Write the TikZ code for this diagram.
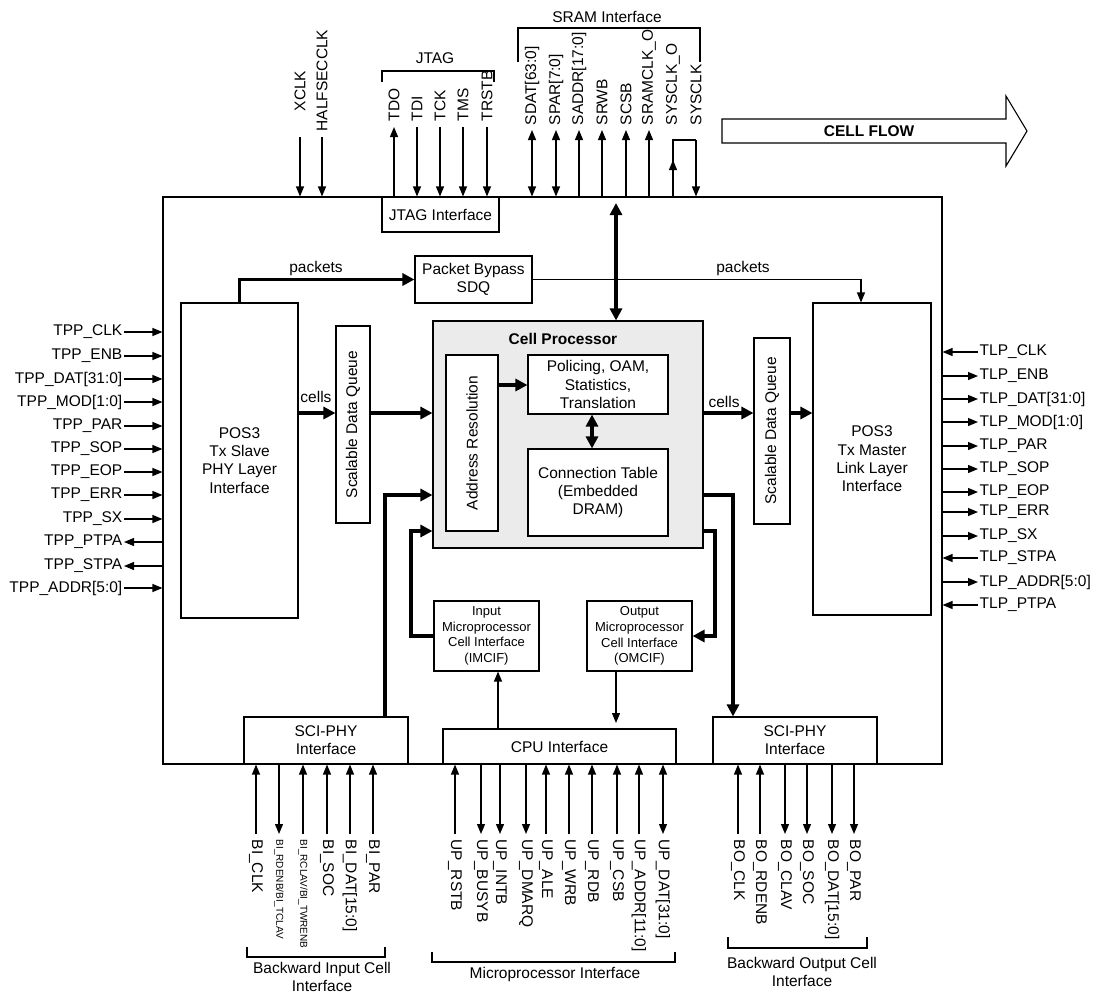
\documentclass[tikz,border=0pt]{standalone}
\usepackage{fontspec}
\setmainfont{Liberation Sans}
\usetikzlibrary{arrows.meta,calc}
\tikzset{
  every node/.style={font=\fontsize{15.5}{18.3}\selectfont, inner sep=1.5pt},
  box/.style={draw, line width=1.1pt, fill=white, inner sep=0pt, align=center},
  ln/.style={line width=1.1pt},
  ar/.style={line width=1.2pt, -{Triangle[length=10pt,width=8pt]}},
  ral/.style={line width=1.2pt, {Triangle[length=10pt,width=8pt]}-},
  dar/.style={line width=1.2pt, {Triangle[length=10pt,width=8pt]}-{Triangle[length=10pt,width=8pt]}},
  bar/.style={line width=3.2pt, -{Triangle[length=12pt,width=12pt]}},
  bdar/.style={line width=3.2pt, {Triangle[length=12pt,width=12pt]}-{Triangle[length=12pt,width=12pt]}},
  bln/.style={line width=3.2pt},
  small/.style={font=\fontsize{13}{15.7}\selectfont},
  boldtxt/.style={font=\fontsize{15.5}{18.3}\selectfont\bfseries}
}
\begin{document}
\begin{tikzpicture}[x=1pt,y=-1pt]
\useasboundingbox (0,0) rectangle (1106,994);

% main chip
\node[box, minimum width=779pt, minimum height=567pt] (main) at (552.5,480.5) {};

% inner blocks
\node[box, minimum width=117pt, minimum height=35pt] (jtagif) at (440.5,214.5) {JTAG Interface};
\node[box, minimum width=117pt, minimum height=315pt] (pos3s) at (239.5,460.5) {POS3\\Tx Slave\\PHY Layer\\Interface};
\node[box, minimum width=117pt, minimum height=47pt] (pbsdq) at (473.5,279.5) {Packet Bypass\\SDQ};
\node[box, minimum width=34pt, minimum height=197pt] (sdqL) at (353,424.5) {};
\node[rotate=90] (sdqLt) at (sdqL) {Scalable Data Queue};
\node[box, fill=black!8, minimum width=270pt, minimum height=227pt] (cellproc) at (568,434.5) {};
\node[boldtxt] (cpt) at (563,339) {Cell Processor};
\node[box, minimum width=52pt, minimum height=176pt] (addr) at (472,443) {};
\node[rotate=90] (addrt) at (addr) {Address Resolution};
\node[box, minimum width=140pt, minimum height=59pt] (polic) at (598,384.5) {Policing, OAM,\\Statistics,\\Translation};
\node[box, minimum width=140pt, minimum height=87pt] (conn) at (598,492.5) {Connection Table\\(Embedded\\DRAM)};
\node[box, minimum width=36pt, minimum height=186pt] (sdqR) at (772,431) {};
\node[rotate=90] (sdqRt) at (sdqR) {Scalable Data Queue};
\node[box, minimum width=118pt, minimum height=312pt] (pos3m) at (872,459) {POS3\\Tx Master\\Link Layer\\Interface};
\node[box, small, minimum width=105pt, minimum height=70pt] (imcif) at (486.5,636) {Input\\Microprocessor\\Cell Interface\\(IMCIF)};
\node[box, small, minimum width=105pt, minimum height=70pt] (omcif) at (639.5,636) {Output\\Microprocessor\\Cell Interface\\(OMCIF)};
\node[box, minimum width=233pt, minimum height=35pt] (cpu) at (559.5,746.5) {CPU Interface};
\node[box, minimum width=164pt, minimum height=47pt] (scil) at (326,740.5) {SCI-PHY\\Interface};
\node[box, minimum width=164pt, minimum height=47pt] (scir) at (795,740.5) {SCI-PHY\\Interface};

% internal connections
\draw[bar] (pos3s.north) |- (pbsdq.west);
\node (pk1) at (316,268) {packets};
\draw[ar] (pbsdq.east) -| ([xshift=-11pt]pos3m.north);
\node (pk2) at (743,268) {packets};
\draw[bar] (pos3s.east |- 0,413) -- (sdqL.west |- 0,413);
\node (c1) at (316,397) {cells};
\draw[bar] (sdqL.east |- 0,413) -- (cellproc.west |- 0,413);
\draw[bar] (cellproc.east |- 0,413) -- (sdqR.west |- 0,413);
\node (c2) at (724,402) {cells};
\draw[bar] (sdqR.east |- 0,413) -- (pos3m.west |- 0,413);
\draw[bar] (addr.east |- 0,385) -- (polic.west |- 0,385);
\draw[bdar] (polic.south -| 592,0) -- (conn.north -| 592,0);
\coordinate (sramin) at (616,203);
\draw[bdar] (sramin) -- (sramin |- cellproc.north);
\draw[bar] (scil.north -| 385,0) -- (385,495) -- (cellproc.west |- 0,495);
\draw[bar] (imcif.west) -| (411,531) -- (cellproc.west |- 0,531);
\draw[bar] (cellproc.east |- 0,495) -| (scir.north -| 733,0);
\draw[bar] (cellproc.east |- 0,531) -| (715,636) -- (omcif.east);
\draw[ar] (cpu.north -| 498,0) -- (imcif.south -| 498,0);
\draw[ar] (omcif.south -| 616,0) -- (616,723);

% left pins
\foreach \nm/\lab/\yy/\st in {lclk/TPP\_CLK/332/ar, lenb/TPP\_ENB/356/ar, ldat/TPP\_DAT[31:0]/379/ar,
  lmod/TPP\_MOD[1:0]/402/ar, lpar/TPP\_PAR/426/ar, lsop/TPP\_SOP/449/ar, leop/TPP\_EOP/472/ar,
  lerr/TPP\_ERR/495/ar, lsx/TPP\_SX/519/ar, lptpa/TPP\_PTPA/542/ral, lstpa/TPP\_STPA/566/ral,
  laddr/TPP\_ADDR[5:0]/588/ar}{
  \node[anchor=east] (\nm) at (124,\yy) {\lab};
  \draw[\st] (\nm.east) -- (main.west |- \nm.east);
}

% right pins
\foreach \nm/\lab/\yy/\st in {rclk/TLP\_CLK/352/ral, renb/TLP\_ENB/376/ar, rdat/TLP\_DAT[31:0]/399/ar,
  rmod/TLP\_MOD[1:0]/422/ar, rpar/TLP\_PAR/446/ar, rsop/TLP\_SOP/469/ar, reop/TLP\_EOP/492/ar,
  rerr/TLP\_ERR/512/ar, rsx/TLP\_SX/536/ar, rstpa/TLP\_STPA/558/ral, raddr/TLP\_ADDR[5:0]/582/ar,
  rptpa/TLP\_PTPA/605/ral}{
  \node[anchor=west] (\nm) at (978,\yy) {\lab};
  \draw[\st] (main.east |- \nm.west) -- (\nm.west);
}

% top pins
\foreach \nm/\lab/\xx/\yb/\yt/\st in {xclk/XCLK/300/113/137/ar, half/HALFSECCLK/322/133/137/ar,
  tdo/TDO/394/123/127/ral, tdi/TDI/417/123/127/ar, tck/TCK/440/123/127/ar, tms/TMS/463/123/127/ar,
  trstb/TRSTB/487/123/127/ar, sdat/SDAT[63:0]/532/127/130/dar, spar/SPAR[7:0]/556/127/130/dar,
  saddr/SADDR[17:0]/579/127/130/ral, srwb/SRWB/602/127/130/ral, scsb/SCSB/626/127/130/ral,
  sramclk/SRAMCLK\_O/649/127/130/ral}{
  \node[rotate=90, anchor=west] (\nm) at (\xx,\yb) {\lab};
  \draw[\st] (\nm.west |- 0,\yt) -- (\nm.west |- main.north);
}
\node[rotate=90, anchor=west] (sysclko) at (673,127) {SYSCLK\_O};
\node[rotate=90, anchor=west] (sysclk) at (696,127) {SYSCLK};
\draw[ar] (sysclko.west |- main.north) -- (sysclko.west |- 0,160);
\draw[ln] (sysclko.west |- 0,162) -- (sysclko.west |- 0,140) -- (sysclk.west |- 0,140);
\draw[ar] (sysclk.west |- 0,140) -- (sysclk.west |- main.north);

% top brackets
\draw[ln] (382,82) -- (382,71) -- (494,71) -- (494,82);
\node (jtagl) at (435,58) {JTAG};
\draw[ln] (518,62) -- (518,28) -- (700,28) -- (700,62);
\node (sraml) at (607,17) {SRAM Interface};

% bottom pins
\foreach \nm/\lab/\xx/\st in {bclk/BI\_CLK/256/ar,
  brdenb/{\fontsize{10}{12}\selectfont BI\_RDENB/BI\_TCLAV}/279/ral,
  brclav/{\fontsize{10}{12}\selectfont BI\_RCLAV/BI\_TWRENB}/303/ar,
  bsoc/BI\_SOC/327/ar, bdat/BI\_DAT[15:0]/350/ar, bpar/BI\_PAR/373/ar,
  ursb/UP\_RSTB/455/ar, ubusy/UP\_BUSYB/481/ral, uintb/UP\_INTB/500/ral, udmarq/UP\_DMARQ/526/ral,
  uale/UP\_ALE/546/ar, uwrb/UP\_WRB/569/ar, urdb/UP\_RDB/592/ar, ucsb/UP\_CSB/617/ar,
  uaddr/UP\_ADDR[11:0]/639/ar, udat/UP\_DAT[31:0]/663/dar,
  oclk/BO\_CLK/738/ar, ordenb/BO\_RDENB/760/ar, oclav/BO\_CLAV/785/ral, osoc/BO\_SOC/807/ral,
  odat/BO\_DAT[15:0]/832/ral, opar/BO\_PAR/854/ral}{
  \node[rotate=-90, anchor=west] (\nm) at (\xx,838) {\lab};
  \draw[\st] (\nm.west |- 0,834) -- (\nm.west |- main.south);
}

% bottom brackets
\draw[ln] (247,947) -- (247,957) -- (385,957) -- (385,947);
\node[align=center] (bil) at (322,977) {Backward Input Cell\\Interface};
\draw[ln] (432,952) -- (432,962) -- (675,962) -- (675,952);
\node (upl) at (555,974) {Microprocessor Interface};
\draw[ln] (728,937) -- (728,948) -- (867,948) -- (867,937);
\node[align=center] (bol) at (802,972) {Backward Output Cell\\Interface};

% cell flow arrow
\draw[ln] (722,119) -- (1006,119) -- (1006,96) -- (1027,131) -- (1006,166) -- (1006,143) -- (722,143) -- cycle;
\node[boldtxt] (cflow) at (869,131) {CELL FLOW};
\end{tikzpicture}
\end{document}
